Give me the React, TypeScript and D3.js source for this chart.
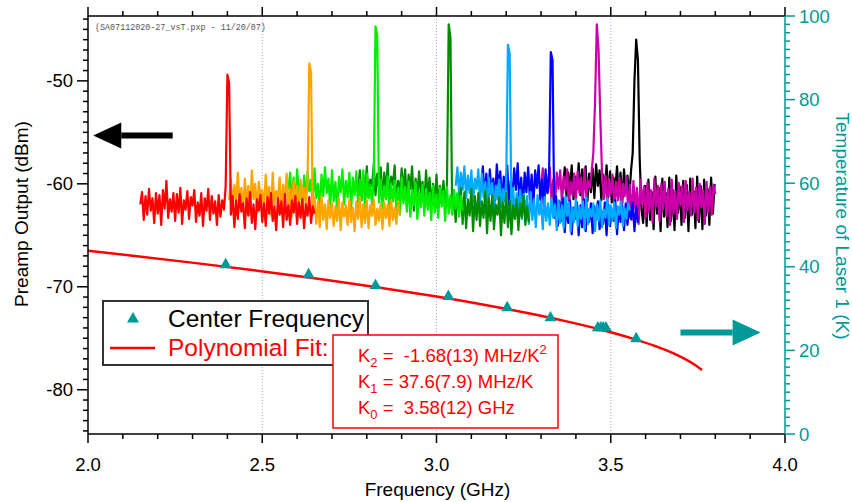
import React, { useEffect, useRef } from 'react';
import * as d3 from 'd3';

const width = 852;
const height = 502;
const margin = { top: 16, right: 67, bottom: 68, left: 88 };

const TEAL = '#009999';
const FONT = '"Liberation Sans", Arial, Helvetica, sans-serif';

// spectra: each trace starts at traceStarts[i] (GHz) and steps by traceStep
const traceColors = ['#ff0000', '#ffa500', '#00ee00', '#008c00', '#00aaff', '#0000ff', '#cc00aa', '#000000'];
const traceStarts = [2.15, 2.405, 2.575, 2.775, 3.055, 3.128, 3.30, 3.363];
const traceStep = 0.005;

const redTrace = [
    -62.0, -60.8, -63.5, -61.2, -63.0, -60.5, -62.6, -61.4, -63.8, -60.9,
    -62.9, -61.1, -64.0, -60.6, -62.4, -59.7, -63.3, -61.5, -62.7, -60.9,
    -63.6, -61.0, -62.8, -60.4, -63.9, -61.6, -62.5, -60.7, -63.4, -61.3,
    -62.1, -60.6, -63.7, -61.8, -63.1, -60.9, -64.1, -61.4, -62.6, -60.5,
    -63.5, -61.2, -62.9, -61.7, -64.0, -61.1, -63.2, -61.6, -62.5, -60.3,
    -49.4, -50.2, -63.0, -61.2, -64.2, -61.6, -63.4, -61.0, -62.7, -61.9,
    -64.3, -61.4, -63.1, -60.8, -63.8, -62.0, -64.4, -61.5, -62.6, -61.1,
    -63.7, -61.9, -64.1, -61.3, -62.9, -60.9, -63.6, -62.2, -64.5, -61.4,
    -63.0, -61.7, -64.2, -61.0, -63.5, -62.1, -64.0, -61.6, -62.8, -61.2,
    -63.9, -61.8, -63.3, -61.5, -64.3, -62.0, -63.1, -61.3, -63.8, -62.2,
    -62.9
];
const orangeTrace = [
    -61.6, -59.6, -62.3, -60.1, -61.8, -58.9, -62.0, -60.4, -62.6, -59.5,
    -61.9, -60.2, -63.0, -58.7, -61.5, -60.0, -62.8, -59.8, -61.2, -60.6,
    -62.5, -59.1, -61.7, -60.3, -63.1, -58.9, -62.2, -60.7, -61.4, -59.4,
    -62.9, -60.1, -61.6, -59.0, -62.4, -60.5, -63.2, -59.7, -61.9, -60.2,
    -62.7, -59.6, -61.3, -60.4, -62.1, -59.8, -48.3, -49.2, -63.0, -61.3,
    -63.9, -61.7, -64.2, -61.2, -63.5, -62.0, -64.4, -61.6, -63.3, -61.9,
    -64.1, -62.2, -63.6, -61.4, -64.5, -61.8, -63.2, -62.1, -64.0, -61.5,
    -63.7, -62.3, -64.6, -61.7, -63.4, -61.3, -64.2, -62.0, -63.8, -61.6,
    -64.3, -62.1, -63.1, -61.5, -64.0, -62.4, -63.6, -61.9, -64.4, -61.8,
    -63.3, -62.0, -64.1, -61.6, -63.5, -62.3, -63.9, -61.7, -63.0
];
const greenTrace = [
    -60.6, -58.9, -61.8, -59.4, -62.2, -58.6, -61.0, -59.9, -62.4, -59.2,
    -61.5, -58.8, -60.7, -59.6, -62.1, -58.5, -61.4, -60.0, -62.6, -59.1,
    -61.2, -58.4, -60.9, -59.5, -62.3, -58.7, -61.7, -59.8, -62.8, -59.3,
    -60.8, -58.6, -62.0, -59.7, -61.3, -58.9, -62.5, -59.4, -61.1, -58.8,
    -62.2, -59.6, -61.6, -58.7, -62.7, -59.0, -61.4, -60.1, -62.0, -59.5,
    -44.7, -45.6, -61.8, -59.6, -62.4, -60.2, -61.5, -59.3, -62.9, -60.0,
    -61.7, -59.7, -62.6, -60.4, -63.0, -59.4, -61.9, -60.3, -62.7, -59.8,
    -63.2, -60.6, -62.1, -59.9, -63.4, -60.8, -62.3, -60.1, -63.1, -60.5,
    -62.5, -60.9, -63.5, -60.2, -62.8, -61.0, -63.3, -60.4, -62.2, -60.7,
    -63.6, -60.3, -62.9, -61.1, -63.0, -60.6, -62.4, -60.9, -63.2, -61.2,
    -62.6
];
const darkGreenTrace = [
    -60.9, -58.7, -61.6, -59.2, -60.6, -58.3, -61.3, -59.6, -60.2, -58.1,
    -61.1, -59.0, -60.4, -58.4, -61.7, -58.9, -60.8, -58.0, -61.5, -59.3,
    -60.1, -58.2, -62.2, -59.7, -61.0, -58.5, -60.7, -58.6, -61.9, -59.1,
    -60.5, -58.3, -62.6, -59.5, -61.2, -58.8, -60.9, -59.8, -62.1, -58.7,
    -61.4, -59.4, -62.4, -60.0, -61.8, -59.1, -62.3, -60.2, -61.6, -59.7,
    -62.5, -60.3, -44.5, -45.8, -62.9, -60.6, -63.7, -61.0, -62.6, -60.4,
    -63.9, -60.8, -64.3, -61.5, -63.1, -60.5, -64.6, -61.2, -63.5, -60.9,
    -64.1, -61.7, -63.3, -60.7, -64.8, -61.4, -63.6, -61.1, -64.4, -62.0,
    -63.0, -61.3, -65.0, -61.8, -63.8, -60.9, -64.2, -61.6, -64.9, -62.1,
    -63.4, -61.5, -64.5, -61.9, -63.2, -61.2, -64.0, -62.2, -63.7
];
const lightBlueTrace = [
    -60.2, -58.4, -61.1, -58.9, -60.6, -58.3, -61.4, -59.2, -60.9, -58.7,
    -61.8, -59.5, -60.5, -58.6, -62.0, -59.0, -61.3, -59.8, -62.4, -59.4,
    -61.0, -59.9, -62.6, -60.2, -61.5, -59.6, -62.3, -60.5, -61.7, -59.7,
    -46.5, -47.3, -62.8, -60.4, -63.2, -60.9, -62.5, -60.6, -63.4, -61.0,
    -62.7, -61.2, -63.9, -60.8, -63.5, -61.5, -64.2, -61.1, -63.0, -61.7,
    -64.4, -61.3, -63.6, -61.9, -64.0, -61.4, -63.3, -62.0, -64.5, -61.6,
    -63.8, -62.1, -64.3, -61.2, -63.1, -61.8, -64.6, -62.3, -63.7, -61.5,
    -64.1, -62.2, -63.4, -61.7, -64.4, -61.3, -63.9, -62.4, -63.2, -61.9,
    -64.6, -62.0, -63.6, -61.6, -64.2, -62.5, -63.3, -61.4, -64.0, -62.1,
    -63.5, -61.8, -64.3, -62.2, -63.0, -61.7, -64.1, -62.4, -63.4, -61.9,
    -62.6
];
const blueTrace = [
    -60.5, -58.3, -61.4, -59.0, -62.0, -58.6, -60.9, -59.5, -61.7, -58.1,
    -60.3, -58.8, -61.9, -59.3, -60.7, -58.2, -62.1, -59.7, -61.2, -58.5,
    -60.6, -58.0, -61.8, -59.4, -62.2, -58.9, -60.8, -58.4, -61.5, -59.1,
    -62.0, -58.7, -60.4, -58.2, -61.6, -59.6, -62.3, -58.6, -60.9, -59.2,
    -47.2, -48.0, -63.3, -61.2, -64.1, -61.7, -63.6, -61.4, -64.7, -62.0,
    -63.8, -61.6, -64.9, -62.3, -63.4, -61.8, -65.0, -62.1, -64.2, -61.5,
    -64.6, -62.4, -63.7, -61.9, -64.8, -62.2, -63.5, -61.7, -64.4, -62.6,
    -63.9, -61.8, -65.0, -62.0, -64.1, -62.5, -63.6, -61.6, -64.9, -62.3,
    -63.7, -62.1, -64.5, -61.9, -64.0, -62.4, -63.4, -61.8, -64.6, -62.2,
    -63.8
];
const magentaTrace = [
    -60.2, -58.5, -61.4, -59.1, -60.8, -58.4, -61.7, -59.6, -62.1, -58.9,
    -60.5, -58.7, -61.9, -59.3, -60.6, -58.6, -62.2, -59.8, -61.1, -59.0,
    -61.6, -58.8, -60.9, -59.4, -62.0, -58.5, -61.3, -59.7, -60.4, -58.9,
    -57.0, -52.0, -44.5, -47.0, -53.5, -59.0, -61.5, -59.2, -62.1, -59.5,
    -61.0, -59.1, -62.3, -59.8, -61.6, -59.4, -62.6, -60.0, -61.2, -59.3,
    -62.8, -60.1, -63.5, -59.7, -62.4, -60.4, -63.9, -59.6, -62.0, -60.3,
    -63.3, -59.9, -62.7, -60.6, -63.8, -59.5, -62.2, -60.2, -63.6, -60.0,
    -62.5, -59.8, -63.2, -60.5, -64.0, -59.6, -62.9, -60.7, -63.4, -59.9,
    -62.1, -60.2, -63.7, -59.7, -62.6, -60.8, -63.1, -59.5, -62.8, -60.4,
    -63.5, -60.0, -62.3, -60.6, -63.9, -59.8, -62.7, -60.3, -63.0, -60.1,
    -61.0
];
const blackTrace = [
    -60.3, -58.4, -61.2, -58.9, -60.7, -58.2, -61.5, -59.3, -60.5, -58.0,
    -61.1, -58.6, -60.4, -58.3, -61.7, -59.0, -60.8, -58.5, -61.4, -58.1,
    -60.2, -58.7, -61.6, -59.1, -60.6, -58.2, -61.3, -58.8, -61.8, -59.4,
    -60.5, -58.3, -61.2, -58.9, -61.9, -58.6, -60.9, -59.2, -61.5, -58.8,
    -57.0, -50.0, -46.0, -48.0, -57.5, -62.4, -63.8, -60.2, -64.1, -59.6,
    -63.5, -60.8, -64.4, -59.3, -62.9, -60.4, -64.6, -59.5, -63.2, -60.9,
    -64.2, -59.4, -63.6, -60.6, -64.5, -59.2, -62.8, -60.3, -64.0, -59.7,
    -63.3, -60.1, -64.6, -59.5, -63.0, -60.7, -64.3, -59.3, -63.7, -60.2,
    -64.4, -59.6, -63.1, -60.5, -64.0, -59.4, -62.9, -60.0
];
const traces = [redTrace, orangeTrace, greenTrace, darkGreenTrace, lightBlueTrace, blueTrace, magentaTrace, blackTrace];

// center frequency (GHz) vs laser temperature (K)
const centerFreq = [2.395, 2.633, 2.825, 3.034, 3.203, 3.327, 3.463, 3.471, 3.478, 3.486, 3.573];
const centerTemp = [40.5, 38.1, 35.5, 32.9, 30.2, 27.8, 25.4, 25.4, 25.4, 25.4, 22.8];

// polynomial fit curve
const fitTemp = [45, 43, 41, 39, 37, 35, 33, 31, 29, 27, 25, 23, 21, 19, 17, 15.3];
const fitFreq = [1.870, 2.091, 2.298, 2.491, 2.671, 2.838, 2.991, 3.132, 3.257, 3.370, 3.470, 3.556, 3.629, 3.688, 3.733, 3.762];

const gridFreqs = [2.5, 3.0, 3.5];
const xTicks = [2.0, 2.5, 3.0, 3.5, 4.0];
const yLeftTicks = [-80, -70, -60, -50];
const yRightTicks = [0, 20, 40, 60, 80, 100];

const App = () => {
    const svgRef = useRef<SVGSVGElement>(null);

    useEffect(() => {
        const svg = d3.select(svgRef.current);
        svg.selectAll('*').remove();

        const left = margin.left, right = width - margin.right;
        const top = margin.top, bottom = height - margin.bottom;

        const x = d3.scaleLinear().domain([2, 4]).range([left, right]);
        const yL = d3.scaleLinear().domain([-84.3, -43.7]).range([bottom, top]);
        const yR = d3.scaleLinear().domain([0, 100]).range([bottom, top]);

        svg.append('rect').attr('width', width).attr('height', height).attr('fill', '#fff');

        svg.append('defs').append('clipPath').attr('id', 'plot-clip')
            .append('rect').attr('x', left).attr('y', top).attr('width', right - left).attr('height', bottom - top);

        // dotted grid
        svg.append('g').selectAll('line')
            .data(gridFreqs)
            .join('line')
            .attr('x1', d => x(d)).attr('x2', d => x(d))
            .attr('y1', top).attr('y2', bottom)
            .attr('stroke', '#a0a0ff').attr('stroke-width', 1).attr('stroke-dasharray', '1,2');

        svg.append('text')
            .attr('x', 95).attr('y', 30)
            .attr('font-family', '"Liberation Mono", "DejaVu Sans Mono", monospace')
            .attr('font-size', 8.4).attr('fill', '#555')
            .text('(SA07112020-27_vsT.pxp - 11/20/07)');

        // spectra, last one drawn first so red ends on top
        const spectrum = (start: number) => d3.line<number>()
            .x((d, i) => x(start + i * traceStep))
            .y(d => yL(d));

        const order = d3.range(traces.length).reverse();
        svg.append('g').selectAll('path')
            .data(order)
            .join('path')
            .attr('d', i => spectrum(traceStarts[i])(traces[i]))
            .attr('fill', 'none')
            .attr('stroke', i => traceColors[i])
            .attr('stroke-width', 2.2)
            .attr('stroke-linejoin', 'round');

        // fit curve
        const fitLine = d3.line<number>()
            .x((d, i) => x(fitFreq[i]))
            .y(d => yR(d))
            .curve(d3.curveMonotoneX);
        svg.append('path')
            .attr('clip-path', 'url(#plot-clip)')
            .attr('d', fitLine(fitTemp))
            .attr('fill', 'none').attr('stroke', '#ff0000').attr('stroke-width', 2.5);

        const tri = d3.symbol().type(d3.symbolTriangle).size(62);
        svg.append('g').selectAll('path')
            .data(centerFreq)
            .join('path')
            .attr('transform', (d, i) => `translate(${x(d)},${yR(centerTemp[i])})`)
            .attr('d', tri())
            .attr('fill', TEAL);

        // axes
        const axes = svg.append('g').attr('stroke-width', 1.5);
        const xMinor = d3.range(0, 21).map(i => 2 + i * 0.1);
        xMinor.forEach((f, i) => {
            const len = i % 5 === 0 ? 9 : 5;
            axes.append('line').attr('x1', x(f)).attr('x2', x(f)).attr('y1', bottom).attr('y2', bottom + len).attr('stroke', '#000');
            axes.append('line').attr('x1', x(f)).attr('x2', x(f)).attr('y1', top).attr('y2', top - len).attr('stroke', '#000');
        });
        d3.range(-84, -43).forEach(v => {
            const len = v % 10 === 0 ? 11 : 5;
            axes.append('line').attr('x1', left - len).attr('x2', left).attr('y1', yL(v)).attr('y2', yL(v)).attr('stroke', '#000');
        });
        d3.range(0, 101, 2).forEach(v => {
            const len = v % 20 === 0 ? 10 : 5;
            axes.append('line').attr('x1', right).attr('x2', right + len).attr('y1', yR(v)).attr('y2', yR(v)).attr('stroke', TEAL);
        });
        axes.append('line').attr('x1', left).attr('x2', right).attr('y1', bottom).attr('y2', bottom).attr('stroke', '#000');
        axes.append('line').attr('x1', left).attr('x2', right).attr('y1', top).attr('y2', top).attr('stroke', '#000');
        axes.append('line').attr('x1', left).attr('x2', left).attr('y1', top).attr('y2', bottom).attr('stroke', '#000');
        axes.append('line').attr('x1', right).attr('x2', right).attr('y1', top).attr('y2', bottom).attr('stroke', TEAL);

        const labels = svg.append('g').attr('font-family', FONT).attr('font-size', 18.5);
        labels.selectAll('.xl').data(xTicks).join('text').attr('class', 'xl')
            .attr('x', d => x(d)).attr('y', bottom + 37).attr('text-anchor', 'middle')
            .text(d => d.toFixed(1));
        labels.selectAll('.yl').data(yLeftTicks).join('text').attr('class', 'yl')
            .attr('x', left - 15).attr('y', d => yL(d) + 6.5).attr('text-anchor', 'end')
            .text(d => `${d}`);
        labels.selectAll('.yr').data(yRightTicks).join('text').attr('class', 'yr')
            .attr('x', right + 14).attr('y', d => yR(d) + 6.5).attr('fill', TEAL)
            .text(d => `${d}`);

        labels.append('text').attr('x', (left + right) / 2 + 1).attr('y', 496)
            .attr('text-anchor', 'middle').attr('font-size', 19).text('Frequency (GHz)');
        labels.append('text').attr('transform', `translate(28,${(top + bottom) / 2 - 11}) rotate(-90)`)
            .attr('text-anchor', 'middle').attr('font-size', 19).text('Preamp Output (dBm)');
        labels.append('text').attr('transform', `translate(836,${(top + bottom) / 2 + 1}) rotate(90)`)
            .attr('text-anchor', 'middle').attr('font-size', 19).attr('fill', TEAL).text('Temperature of Laser 1 (K)');

        // arrows pointing to the matching axis
        const arrow = (x0: number, x1: number, y: number, color: string) => {
            const dir = Math.sign(x1 - x0);
            const headBase = x1 - dir * 28;
            svg.append('line').attr('x1', x0).attr('x2', headBase).attr('y1', y).attr('y2', y)
                .attr('stroke', color).attr('stroke-width', 6);
            svg.append('path')
                .attr('d', `M${x1},${y}L${headBase},${y - 13}L${headBase},${y + 13}Z`)
                .attr('fill', color);
        };
        arrow(x(2.243), x(2.015), yL(-55.3), '#000');
        arrow(x(3.7), x(3.93), yR(24.3), TEAL);

        // legend
        const legend = svg.append('g').attr('font-family', FONT);
        legend.append('rect').attr('x', 103).attr('y', 301).attr('width', 265).attr('height', 64)
            .attr('fill', '#fff').attr('stroke', '#333').attr('stroke-width', 2);
        legend.append('path').attr('transform', 'translate(133,319)').attr('d', tri()).attr('fill', TEAL);
        legend.append('text').attr('x', 168).attr('y', 327).attr('font-size', 24.5).text('Center Frequency');
        legend.append('line').attr('x1', 110).attr('x2', 155).attr('y1', 348).attr('y2', 348)
            .attr('stroke', '#ff0000').attr('stroke-width', 2.5);
        legend.append('text').attr('x', 168).attr('y', 356).attr('font-size', 24.5).attr('fill', '#ff0000').text('Polynomial Fit:');

        // fit coefficients box
        const box = svg.append('g').attr('font-family', FONT).attr('fill', '#ff0000');
        box.append('rect').attr('x', 333).attr('y', 335).attr('width', 225).attr('height', 93)
            .attr('fill', '#fff').attr('stroke', '#ff0000').attr('stroke-width', 1.5);
        const coefLines = [
            { sub: '2', body: ' =  -1.68(13) MHz/K', sup: '2', y: 362 },
            { sub: '1', body: ' = 37.6(7.9) MHz/K', sup: '', y: 388 },
            { sub: '0', body: ' =  3.58(12) GHz', sup: '', y: 414 }
        ];
        coefLines.forEach(c => {
            const t = box.append('text').attr('x', 358).attr('y', c.y).attr('font-size', 18.5)
                .style('white-space', 'pre');
            t.append('tspan').text('K');
            t.append('tspan').attr('dy', 5).attr('font-size', 13).text(c.sub);
            t.append('tspan').attr('dy', -5).text(c.body);
            if (c.sup) t.append('tspan').attr('dy', -8).attr('font-size', 13).text(c.sup);
        });
    }, []);

    return (
        <div style={{ position: 'absolute', left: 0, top: 0 }}>
            <svg ref={svgRef} width={width} height={height} style={{ display: 'block' }} />
        </div>
    );
};

export default App;
